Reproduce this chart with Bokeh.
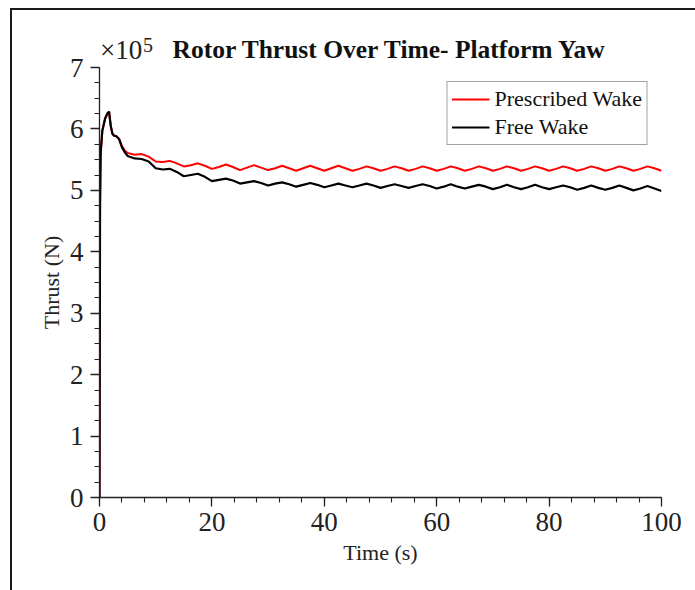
from bokeh.plotting import figure
from bokeh.models import Range1d, SingleIntervalTicker, Legend, LegendItem, Div
from bokeh.layouts import column
from bokeh.embed import file_html
from bokeh.resources import INLINE

# ---------------- data (thrust in units of 1e5 N) ----------------
time_s = [0, 0.1, 0.2, 0.5, 1.0, 1.4, 1.7, 2.0, 2.3, 2.6, 3.0, 3.5, 4.0, 4.5, 5.0,
          6.25, 7.5, 8.75, 10, 11.25, 12.5, 13.75, 15, 16.25, 17.5, 18.75, 20,
          21.25, 22.5, 23.75, 25, 26.25, 27.5, 28.75, 30, 31.25, 32.5, 33.75, 35,
          36.25, 37.5, 38.75, 40, 41.25, 42.5, 43.75, 45, 46.25, 47.5, 48.75, 50,
          51.25, 52.5, 53.75, 55, 56.25, 57.5, 58.75, 60, 61.25, 62.5, 63.75, 65,
          66.25, 67.5, 68.75, 70, 71.25, 72.5, 73.75, 75, 76.25, 77.5, 78.75, 80,
          81.25, 82.5, 83.75, 85, 86.25, 87.5, 88.75, 90, 91.25, 92.5, 93.75, 95,
          96.25, 97.5, 98.75, 100]

prescribed_wake = [0, 4.8, 5.6, 5.97, 6.17, 6.25, 6.28, 6.05, 5.92, 5.89, 5.88, 5.84, 5.72, 5.65, 5.61,
                   5.58, 5.59, 5.55, 5.47,
                   5.46, 5.48, 5.44, 5.39,
                   5.41, 5.44, 5.40, 5.35,
                   5.38, 5.42, 5.38, 5.33,
                   5.37, 5.41, 5.37, 5.33,
                   5.36, 5.40, 5.36, 5.32,
                   5.36, 5.40, 5.36, 5.32,
                   5.36, 5.40, 5.36, 5.32,
                   5.35, 5.39, 5.36, 5.32,
                   5.35, 5.39, 5.36, 5.32,
                   5.35, 5.39, 5.36, 5.32,
                   5.35, 5.39, 5.36, 5.32,
                   5.35, 5.39, 5.36, 5.32,
                   5.35, 5.39, 5.36, 5.32,
                   5.35, 5.39, 5.36, 5.32,
                   5.35, 5.39, 5.36, 5.32,
                   5.35, 5.39, 5.36, 5.32,
                   5.35, 5.39, 5.36, 5.32,
                   5.35, 5.39, 5.36, 5.32]

free_wake = [0, 4.8, 5.6, 5.97, 6.17, 6.25, 6.28, 6.05, 5.92, 5.89, 5.88, 5.83, 5.70, 5.62, 5.56,
             5.52, 5.51, 5.47, 5.36,
             5.34, 5.35, 5.30, 5.23,
             5.25, 5.27, 5.22, 5.15,
             5.17, 5.19, 5.16, 5.11,
             5.13, 5.15, 5.12, 5.08,
             5.11, 5.13, 5.10, 5.06,
             5.09, 5.12, 5.09, 5.05,
             5.08, 5.11, 5.08, 5.05,
             5.08, 5.11, 5.08, 5.04,
             5.07, 5.10, 5.07, 5.04,
             5.07, 5.10, 5.07, 5.03,
             5.06, 5.10, 5.06, 5.03,
             5.06, 5.09, 5.06, 5.02,
             5.05, 5.09, 5.05, 5.02,
             5.05, 5.09, 5.05, 5.02,
             5.05, 5.08, 5.05, 5.01,
             5.04, 5.08, 5.04, 5.01,
             5.04, 5.08, 5.04, 5.00,
             5.03, 5.07, 5.03, 4.99]

series_names = ["Prescribed Wake", "Free Wake"]
title_text = "Rotor Thrust Over Time- Platform Yaw"
x_label = "Time (s)"
y_label = "Thrust (N)"
exponent_base = "\u00d710"
exponent_power = "5"

FONT = "Liberation Serif"
HEADER_H = 57

p = figure(width=683, height=580, output_backend="svg", toolbar_location=None,
           x_range=Range1d(0, 100), y_range=Range1d(0, 7),
           min_border_left=87, min_border_right=34, min_border_top=57, min_border_bottom=93)
p.outline_line_color = None
p.grid.visible = False
p.background_fill_color = "white"
p.border_fill_color = None
p.margin = (-HEADER_H, 0, 0, 0)

r1 = p.line(time_s, prescribed_wake, line_color="#ff0000", line_width=2)
r2 = p.line(time_s, free_wake, line_color="#000000", line_width=2.2)

p.xaxis.ticker = SingleIntervalTicker(interval=20, num_minor_ticks=5)
p.yaxis.ticker = SingleIntervalTicker(interval=1, num_minor_ticks=4)

for ax in (p.xaxis[0], p.yaxis[0]):
    ax.axis_line_color = "#222222"
    ax.axis_line_width = 1.3
    ax.major_tick_line_color = "#222222"
    ax.minor_tick_line_color = "#222222"
    ax.major_tick_line_width = 1.3
    ax.minor_tick_line_width = 1.1
    ax.major_tick_in = 0
    ax.major_tick_out = 9
    ax.minor_tick_in = 0
    ax.minor_tick_out = 5
    ax.major_label_text_font = FONT
    ax.major_label_text_font_size = "27px"
    ax.major_label_text_color = "#222222"
    ax.axis_label_text_font = FONT
    ax.axis_label_text_font_size = "22px"
    ax.axis_label_text_font_style = "normal"
    ax.axis_label_text_color = "#222222"

p.xaxis.axis_label = x_label
p.yaxis.axis_label = y_label
p.xaxis.major_label_standoff = 6
p.yaxis.major_label_standoff = 7
p.xaxis.axis_label_standoff = 6
p.yaxis.axis_label_standoff = 3

legend = Legend(items=[LegendItem(label=series_names[0], renderers=[r1]),
                       LegendItem(label=series_names[1], renderers=[r2])],
                location="top_right")
legend.label_text_font = FONT
legend.label_text_font_size = "22px"
legend.label_text_color = "#111111"
legend.border_line_color = "#444444"
legend.border_line_width = 1.2
legend.margin = 14
legend.padding = 4
legend.spacing = 2
legend.glyph_width = 38
legend.glyph_height = 22
legend.label_height = 22
legend.label_standoff = 5
legend.background_fill_alpha = 1
p.add_layout(legend)

p.title.text = title_text
p.title.text_font = FONT
p.title.text_font_style = "bold"
p.title.text_font_size = "25.5px"
p.title.text_color = "#111111"
p.title.align = "left"
p.title.offset = 73
p.title.standoff = 8

# the "x10^5" multiplier sits outside the plot frame, so it is drawn as HTML text
# in a header that the (transparent-bordered) figure overlaps
header_html = (
    '<div style="position:relative;width:683px;height:%dpx;font-family:\'Liberation Serif\';color:#222222;">'
    '<span style="position:absolute;left:88px;top:27px;font-size:27px;line-height:27px;white-space:nowrap;">%s</span>'
    '<span style="position:absolute;left:131px;top:25px;font-size:20px;line-height:20px;">%s</span>'
    '</div>' % (HEADER_H, exponent_base, exponent_power)
)
header = Div(text=header_html, width=683, height=HEADER_H, margin=(0, 0, 0, 0))

layout = column(header, p, margin=(8, 0, 0, 10), spacing=0,
                styles={"border-left": "2px solid #1a1a1a", "border-top": "2px solid #1a1a1a"})

open("out.html", "w").write(file_html(layout, INLINE))
